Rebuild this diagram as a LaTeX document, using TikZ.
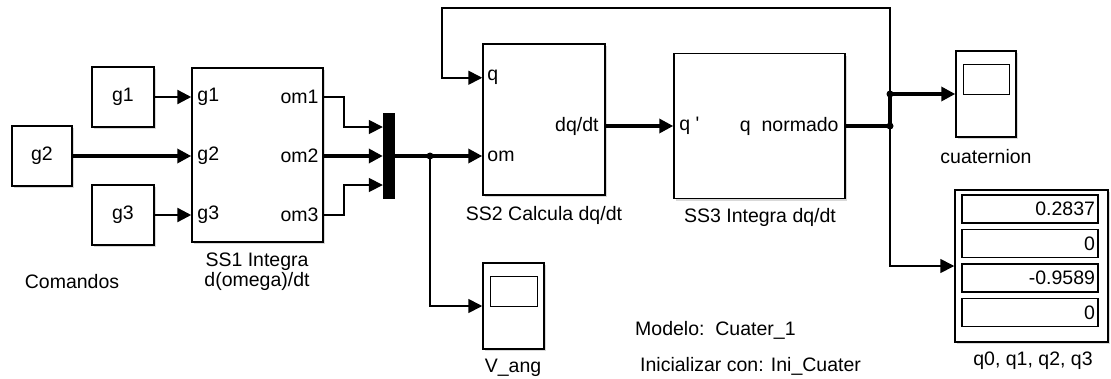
\documentclass[tikz,border=0pt]{standalone}
\usepackage{fontspec}
\setmainfont{Liberation Sans}
\usetikzlibrary{arrows.meta, shadows}

\begin{document}
\begin{tikzpicture}[>={Triangle[length=14pt,width=14pt]}, x=1pt, y=-1pt,
  every node/.style={font=\fontsize{19.5}{20}\selectfont, inner sep=0pt},
  blk/.style={draw, line width=1.5pt, fill=white,
    drop shadow={shadow xshift=2pt, shadow yshift=-2pt, opacity=0.3}},
  wire/.style={line width=2.4pt},
  thinwire/.style={line width=1.7pt},
  bus/.style={line width=3.4pt},
  field/.style={draw, line width=1.3pt, fill=white, minimum height=28pt,
    text width=130pt, inner xsep=3pt, align=right}]

% --- Frame (pixels, y down) ---
\useasboundingbox (0,0) rectangle (1111,378);

% --- Rows of the signals ---
\def\rowA{97}
\def\rowB{156}
\def\rowC{215}

% --- Sources ---
\node[blk, minimum width=62pt, minimum height=60pt] (g1) at (123,\rowA) {g1};
\node[blk, minimum width=60pt, minimum height=60pt] (g2) at (42,\rowB) {g2};
\node[blk, minimum width=62pt, minimum height=60pt] (g3) at (123,\rowC) {g3};
\node (cmd) at (72,282) {Comandos};

% --- Subsystems ---
\node[blk, minimum width=131pt, minimum height=174pt] (ss1) at (257.5,155) {};
\node[draw, fill=black, minimum width=11pt, minimum height=85pt] (mux) at (388.5,\rowB) {};
\node[blk, minimum width=122pt, minimum height=151pt] (ss2) at (544,119.5) {};
\node[blk, minimum width=171pt, minimum height=145pt] (ss3) at (759.5,126) {};

% port coordinates
\coordinate (ss1g1) at (ss1.west |- g1);
\coordinate (ss1g2) at (ss1.west |- g2);
\coordinate (ss1g3) at (ss1.west |- g3);
\coordinate (ss1o1) at (ss1.east |- g1);
\coordinate (ss1o2) at (ss1.east |- g2);
\coordinate (ss1o3) at (ss1.east |- g3);
\coordinate (mx1) at ([yshift=29pt]mux.west);
\coordinate (mx2) at (mux.west);
\coordinate (mx3) at ([yshift=-29pt]mux.west);
\coordinate (ss2q) at ([yshift=-34.5pt]ss2.north west);
\coordinate (ss2om) at (ss2.west |- mux);
\coordinate (ss2dq) at (ss2.east |- ss3);

% port labels
\node[anchor=west] (lg1) at ([xshift=6pt]ss1g1) {g1};
\node[anchor=west] (lg2) at ([xshift=6pt]ss1g2) {g2};
\node[anchor=west] (lg3) at ([xshift=6pt]ss1g3) {g3};
\node[anchor=east] (lo1) at ([xshift=-5pt]ss1o1) {om1};
\node[anchor=east] (lo2) at ([xshift=-5pt]ss1o2) {om2};
\node[anchor=east] (lo3) at ([xshift=-5pt]ss1o3) {om3};
\node[anchor=west] (lq) at ([xshift=5pt]ss2q) {q};
\node[anchor=west] (lom) at ([xshift=5pt]ss2om) {om};
\node[anchor=east] (ldq) at ([xshift=-7pt]ss2dq) {dq/dt};
\node[anchor=west] (lqp) at ([xshift=6pt]ss3.west) {q \textquotesingle};
\node[anchor=east] (lqn) at ([xshift=-7pt]ss3.east) {q\ \ normado};

% block names
\node[align=center] (ss1name) at (257,272) {SS1 Integra\\d(omega)/dt};
\node (ss2name) at (544,215) {SS2 Calcula dq/dt};
\node (ss3name) at (760,217) {SS3 Integra dq/dt};

% --- Sinks ---
\node[blk, minimum width=60pt, minimum height=86pt] (cuat) at (986,94) {};
\node[blk, minimum width=61pt, minimum height=86pt] (vang) at (513.5,306) {};
\foreach \s in {cuat, vang}
  \draw[line width=1.3pt] ([xshift=8pt,yshift=-14pt]\s.north west)
    rectangle ([xshift=-7pt,yshift=-44pt]\s.north east);
\node (cuatname) at (986,157) {cuaternion};
\node (vangname) at (513,368) {V\_ang};

\node[blk, minimum width=153pt, minimum height=152pt] (disp) at (1031.5,266) {};
\foreach \v [count=\i] in {0.2837, 0, -0.9589, 0}
  \node[field] (disp\i) at (1030,174.5+34.5*\i) {\v};
\node (dispname) at (1033,361) {q0, q1, q2, q3};

% --- Notes ---
\node[anchor=west] (modelo) at (635,330) {Modelo:\ \ Cuater\_1};
\node[anchor=west] (inic) at (640,366) {Inicializar con: Ini\_Cuater};

% --- Junctions ---
\coordinate (jv) at (430,\rowB);
\coordinate (jq1) at (890,94);
\coordinate (jq2) at (890,126);
\coordinate (fbr) at (890,8);
\coordinate (fbl) at (442,8);

% --- Connections ---
\draw[wire,->] (g1) -- (ss1g1);
\draw[bus,->] (g2) -- (ss1g2);
\draw[wire,->] (g3) -- (ss1g3);
\draw[thinwire,->] (ss1o1) -- ++(20,0) |- (mx1);
\draw[bus,->] (ss1o2) -- (mx2);
\draw[thinwire,->] (ss1o3) -- ++(20,0) |- (mx3);
\draw[bus,->] (mux.east) -- (ss2om);
\draw[thinwire,->] (jv) |- (vang.west);
\draw[bus,->] (ss2dq) -- (ss3.west);
\draw[bus] (ss3.east) -- (jq2) -- (jq1);
\draw[bus,->] (jq1) -- (cuat.west |- jq1);
\draw[thinwire,->] (jq1) -- (fbr) -- (fbl) |- (ss2q);
\draw[thinwire,->] (jq2) |- (disp.west);

\foreach \j in {jv, jq1, jq2}
  \fill (\j) circle (3.5pt);

\end{tikzpicture}
\end{document}
